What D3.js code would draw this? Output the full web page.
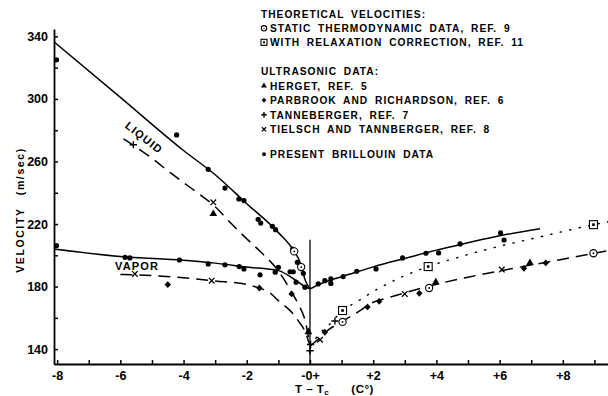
<!DOCTYPE html>
<html>
<head>
<meta charset="utf-8">
<script src="https://cdn.jsdelivr.net/npm/d3@7"></script>
<style>
  html, body { margin: 0; padding: 0; background: #fff; }
  svg { display: block; font-family: "Liberation Sans", Arial, sans-serif; font-weight: bold; }
</style>
</head>
<body>
<div id="chart"></div>
<script>
// tick values and labels
var xTicks = [-8, -7, -6, -5, -4, -3, -2, -1, 0, 1, 2, 3, 4, 5, 6, 7, 8, 9];
var xLabelAt = [-8, -6, -4, -2, 0, 2, 4, 6, 8];
var xLabels = ["-8", "-6", "-4", "-2", "-0+", "+2", "+4", "+6", "+8"];
var yTicks = [140, 160, 180, 200, 220, 240, 260, 280, 300, 320, 340];
var yLabelAt = [140, 180, 220, 260, 300, 340];

// fitted curves, [T - Tc, velocity]
var liquidFit = [[-8.1, 336.5], [-6, 301], [-4, 267], [-3, 251.5], [-2, 233], [-1, 214.5], [-0.5, 202.5], [-0.3, 195], [-0.15, 184], [0, 178.5]];
var vaporFit = [[-8.1, 204], [-6, 199.2], [-4, 196.8], [-3, 195], [-2, 192.5], [-1, 190.2], [-0.45, 184], [-0.2, 180.5], [0, 178.5]];
var aboveFit = [[0, 178.5], [0.3, 181.5], [0.7, 184.5], [1, 186.3], [2, 192.6], [3, 198], [4, 203.3], [5, 208], [6, 212.5], [7.28, 217]];
var liquidUltra = [[-5.9, 274.5], [-5, 262], [-4.4, 252.5], [-3.8, 243.5], [-3, 231], [-2.5, 220.5], [-2, 210.5], [-1.5, 201], [-1, 190], [-0.6, 177], [-0.35, 168], [-0.15, 158], [0, 142]];
var vaporUltra = [[-6, 187.8], [-5, 187], [-4, 185.6], [-3, 183.6], [-2, 181.3], [-1.6, 179], [-1.3, 176.5], [-1, 171], [-0.6, 164], [-0.35, 157.5], [-0.15, 151], [0, 142]];
var aboveUltra = [[0, 142], [0.3, 147], [0.5, 151], [1, 157.5], [1.5, 163.5], [2, 170], [2.5, 173], [3, 176], [4, 181.5], [5, 186], [6, 190], [7, 193.8], [8, 197.5], [9, 201.3], [9.43, 203]];
var relaxCurve = [[0, 142], [0.4, 152], [0.6, 155.5], [1.03, 164.7], [1.5, 170.5], [2, 176.8], [2.5, 182.3], [3, 187], [3.5, 191], [4, 194.5], [5, 200.5], [6, 205.8], [7, 210.5], [8, 215.2], [8.97, 219.6], [9.43, 221.5]];

// measured points
var brillouinLiquid = [[-8.02, 325], [-4.22, 277], [-3.22, 255], [-2.69, 243], [-2.25, 236], [-2.09, 235], [-1.64, 223], [-1.56, 220.6], [-1.19, 218.5], [-1.09, 216.4], [-0.55, 204], [-0.4, 195.5], [-0.21, 188.5]];
var brillouinVapor = [[-8.02, 206.2], [-5.85, 198.7], [-5.7, 198.3], [-4.13, 197], [-3.22, 194.5], [-2.69, 193.9], [-2.24, 192.8], [-2.09, 191.3], [-1.58, 187.5], [-1.0, 192.3], [-1.1, 189.2], [-0.63, 189.5], [-0.53, 189.5], [-0.44, 182.8], [-0.16, 179.6]];
var brillouinAbove = [[0.26, 181.7], [0.47, 183.8], [0.66, 184.9], [0.66, 182], [1.05, 186.4], [1.48, 189.8], [2.09, 191.3], [2.93, 198.3], [3.67, 201.3], [4.07, 201.5], [4.75, 207.3], [6.03, 214.3], [6.14, 209.8]];
var herget = [[-3.06, 226.5], [-0.05, 151], [3.98, 182.8], [6.96, 195.1]];
var parbrook = [[-4.5, 181.3], [-1.6, 179.1], [-0.58, 175.3], [0.47, 150.8], [1.82, 167], [2.19, 170.6], [3.46, 175.7], [6.77, 191.7], [7.46, 195.1]];
var tanneberger = [[-5.59, 270.7], [0.02, 143], [0, 139], [0.79, 158]];
var tielsch = [[-3.06, 233.9], [-5.54, 188.1], [-3.11, 183.8], [0.32, 146], [3.0, 175.3], [6.07, 190.9]];
var staticTheory = [[-0.5, 202.5], [-0.28, 192.5], [1.03, 157.4], [3.77, 179.1], [8.97, 201.3]];
var relaxTheory = [[1.03, 164.7], [3.74, 192.8], [8.97, 219.6]];

var legendTheory = [["circ", "STATIC THERMODYNAMIC DATA, REF. 9"], ["sq", "WITH RELAXATION CORRECTION, REF. 11"]];
var legendUltra = [["tri", "HERGET, REF. 5"], ["dia", "PARBROOK AND RICHARDSON, REF. 6"], ["plus", "TANNEBERGER, REF. 7"], ["cross", "TIELSCH AND TANNBERGER, REF. 8"]];

var width = 608, height = 396;
var svg = d3.select('#chart').append('svg');
svg.attr('width', width);
svg.attr('height', height);
svg.append('rect').attr('width', width).attr('height', height).attr('fill', '#fff');

var x = d3.scaleLinear().domain([-8.1, 9.43]).range([54, 608]);
var y = d3.scaleLinear().domain([130.5, 344.7]).range([364, 29]);

function drawMarker(g, type, s) {
    s = s || 1;
    if (type === 'dot') {
        g.append('circle').attr('r', 2.6 * s).attr('fill', '#000');
    } else if (type === 'tri') {
        g.append('path').attr('d', d3.symbol(d3.symbolTriangle, 26 * s * s)()).attr('fill', '#000');
    } else if (type === 'dia') {
        g.append('path').attr('d', 'M0,' + (-3.4 * s) + 'L' + (3.2 * s) + ',0L0,' + (3.4 * s) + 'L' + (-3.2 * s) + ',0Z').attr('fill', '#000');
    } else if (type === 'plus') {
        g.append('path').attr('d', 'M' + (-3.6 * s) + ',0H' + (3.6 * s) + 'M0,' + (-3.6 * s) + 'V' + (3.6 * s))
            .attr('stroke', '#000').attr('stroke-width', 1.4).attr('fill', 'none');
    } else if (type === 'cross') {
        var c = 2.8 * s;
        g.append('path').attr('d', 'M' + (-c) + ',' + (-c) + 'L' + c + ',' + c + 'M' + (-c) + ',' + c + 'L' + c + ',' + (-c))
            .attr('stroke', '#000').attr('stroke-width', 1.3).attr('fill', 'none');
    } else if (type === 'circ') {
        g.append('circle').attr('r', 3.6 * s).attr('fill', '#fff').attr('stroke', '#000').attr('stroke-width', 1.1);
        g.append('circle').attr('r', 0.9 * s).attr('fill', '#000');
    } else if (type === 'sq') {
        g.append('rect').attr('x', -4 * s).attr('y', -4 * s).attr('width', 8 * s).attr('height', 8 * s)
            .attr('fill', '#fff').attr('stroke', '#000').attr('stroke-width', 1.1);
        g.append('rect').attr('x', -1.3 * s).attr('y', -1.3 * s).attr('width', 2.6 * s).attr('height', 2.6 * s).attr('fill', '#000');
    }
}

// axes
var xAxis = d3.axisBottom(x).tickValues(xTicks).tickSize(-4).tickSizeOuter(0).tickPadding(7)
    .tickFormat(function (d) { var i = xLabelAt.indexOf(d); return i < 0 ? '' : xLabels[i]; });
var yAxis = d3.axisLeft(y).tickValues(yTicks).tickSize(-4).tickSizeOuter(0).tickPadding(6)
    .tickFormat(function (d) { return yLabelAt.indexOf(d) < 0 ? '' : d; });

var gx = svg.append('g').attr('transform', 'translate(0,' + y(130.5) + ')').call(xAxis);
var gy = svg.append('g').attr('transform', 'translate(' + x(-8.1) + ',0)').call(yAxis);
[gx, gy].forEach(function (g) {
    g.attr('font-family', null).attr('font-size', null);
    g.select('.domain').attr('stroke-width', 1.8);
    g.selectAll('.tick line').attr('stroke-width', 1.5);
    g.selectAll('.tick text').attr('font-size', 12.5).attr('font-weight', 'bold').attr('fill', '#000');
});

// vertical line at the critical temperature
svg.append('line').attr('x1', x(0)).attr('x2', x(0)).attr('y1', y(210)).attr('y2', y(130.5))
    .attr('stroke', '#000').attr('stroke-width', 1.3);

var line = d3.line().x(function (d) { return x(d[0]); }).y(function (d) { return y(d[1]); }).curve(d3.curveMonotoneX);

[liquidFit, vaporFit, aboveFit].forEach(function (c) {
    svg.append('path').attr('d', line(c)).attr('fill', 'none').attr('stroke', '#000').attr('stroke-width', 1.5);
});
[liquidUltra, vaporUltra, aboveUltra].forEach(function (c) {
    svg.append('path').attr('d', line(c)).attr('fill', 'none').attr('stroke', '#000').attr('stroke-width', 1.5)
        .attr('stroke-dasharray', '12,7');
});
svg.append('path').attr('d', line(relaxCurve)).attr('fill', 'none').attr('stroke', '#000').attr('stroke-width', 1.4)
    .attr('stroke-dasharray', '1.2,8.5').attr('stroke-linecap', 'round');

function plotPoints(data, type) {
    data.forEach(function (d) {
        var g = svg.append('g').attr('transform', 'translate(' + x(d[0]) + ',' + y(d[1]) + ')');
        drawMarker(g, type);
    });
}
plotPoints(brillouinLiquid, 'dot');
plotPoints(brillouinVapor, 'dot');
plotPoints(brillouinAbove, 'dot');
plotPoints(herget, 'tri');
plotPoints(parbrook, 'dia');
plotPoints(tanneberger, 'plus');
plotPoints(tielsch, 'cross');
plotPoints(staticTheory, 'circ');
plotPoints(relaxTheory, 'sq');

// curve labels
svg.append('text').attr('transform', 'translate(' + x(-5.25) + ',' + y(275.2) + ') rotate(38)')
    .attr('text-anchor', 'middle').attr('dy', '0.35em').attr('font-size', 11).attr('letter-spacing', 1.2).text('LIQUID');
svg.append('text').attr('x', x(-5.47)).attr('y', y(192.8)).attr('text-anchor', 'middle').attr('dy', '0.35em')
    .attr('font-size', 11).attr('letter-spacing', 1.2).text('VAPOR');

// axis titles
svg.append('text').attr('transform', 'translate(24,210) rotate(-90)').attr('text-anchor', 'middle')
    .attr('font-size', 10.5).attr('letter-spacing', 1.6).attr('word-spacing', 8).text('VELOCITY (m/sec)');
var xt = svg.append('text').attr('x', 295).attr('y', 393).attr('font-size', 11.5).attr('letter-spacing', 0.5);
xt.append('tspan').text('T \u2013 T');
xt.append('tspan').attr('font-size', 8).attr('dy', 2).text('c');
xt.append('tspan').attr('dy', -2).attr('dx', 22).text('(C\u00b0)');

// legend
var lg = svg.append('g').attr('font-size', 10.2).attr('letter-spacing', 1).attr('word-spacing', 3);
var ly = 18;
lg.append('text').attr('x', 261).attr('y', ly).text('THEORETICAL VELOCITIES:');
legendTheory.forEach(function (item, i) {
    var yy = ly + 14 * (i + 1);
    drawMarker(lg.append('g').attr('transform', 'translate(264,' + (yy - 3.7) + ')'), item[0], 0.75);
    lg.append('text').attr('x', 270).attr('y', yy).text(item[1]);
});
var uy = 75;
lg.append('text').attr('x', 261).attr('y', uy).text('ULTRASONIC DATA:');
legendUltra.forEach(function (item, i) {
    var yy = uy + 14.5 * (i + 1);
    drawMarker(lg.append('g').attr('transform', 'translate(264,' + (yy - 3.7) + ')'), item[0], 0.75);
    lg.append('text').attr('x', 270).attr('y', yy).text(item[1]);
});
drawMarker(lg.append('g').attr('transform', 'translate(264,' + (158 - 3.7) + ')'), 'dot', 0.75);
lg.append('text').attr('x', 270).attr('y', 158).text('PRESENT BRILLOUIN DATA');
</script>
</body>
</html>
